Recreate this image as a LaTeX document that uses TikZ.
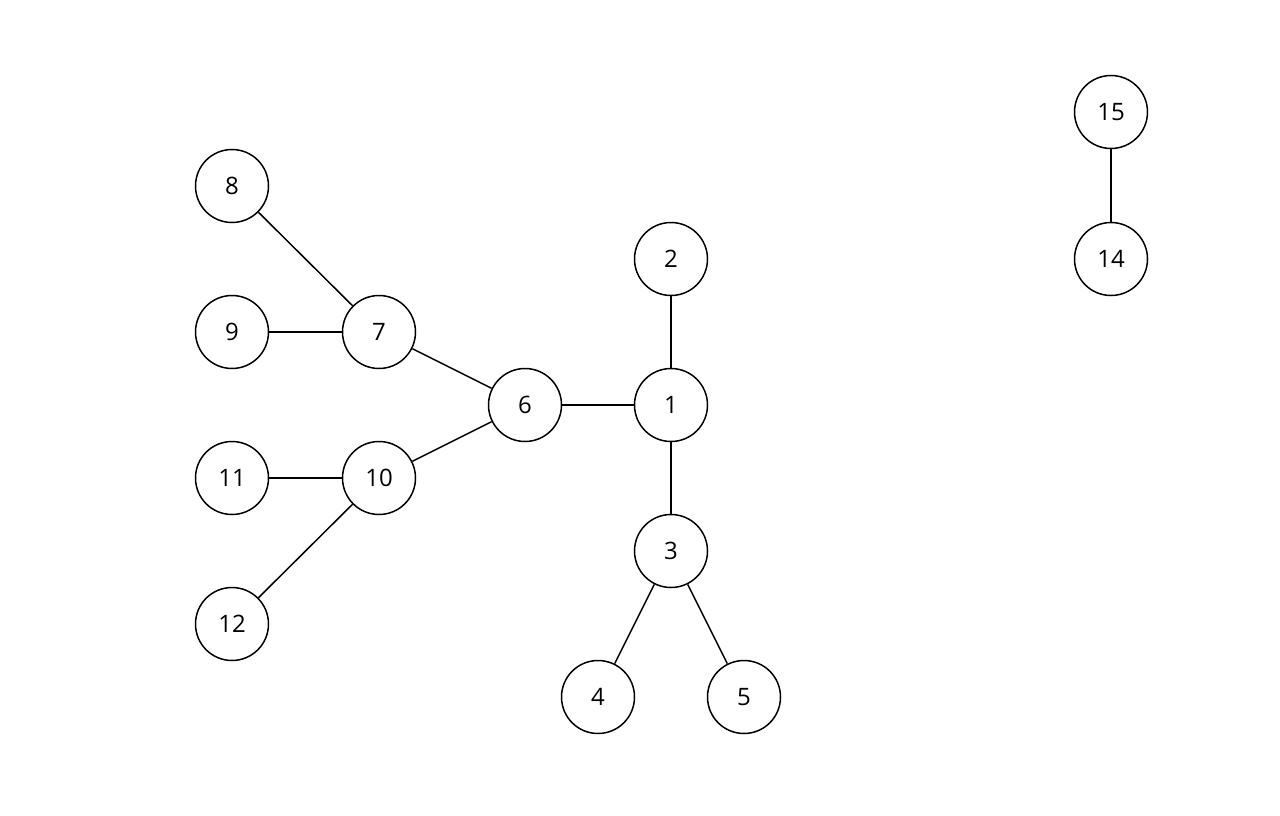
\documentclass[tikz,border=0pt]{standalone}
\usepackage{fontspec}
\setmainfont{Open Sans}
\begin{document}
\begin{tikzpicture}[x=1pt,y=-1pt,
  vert/.style={circle,draw,line width=1.5pt,minimum size=73pt,inner sep=0pt,font=\fontsize{24}{26}\selectfont},
  edge/.style={line width=1.5pt}]
\useasboundingbox (0,0) rectangle (1280,816);
\node[vert] (n15) at (1111,112) {15};
\node[vert] (n14) at (1111,259) {14};
\node[vert] (n8) at (232,186) {8};
\node[vert] (n2) at (671,259) {2};
\node[vert] (n9) at (232,332) {9};
\node[vert] (n7) at (379,332) {7};
\node[vert] (n6) at (525,405) {6};
\node[vert] (n1) at (671,405) {1};
\node[vert] (n11) at (232,478) {11};
\node[vert] (n10) at (379,478) {10};
\node[vert] (n3) at (671,551) {3};
\node[vert] (n12) at (232,624) {12};
\node[vert] (n4) at (598,697) {4};
\node[vert] (n5) at (744,697) {5};
\draw[edge] (n15) -- (n14);
\draw[edge] (n8) -- (n7);
\draw[edge] (n9) -- (n7);
\draw[edge] (n7) -- (n6);
\draw[edge] (n10) -- (n6);
\draw[edge] (n11) -- (n10);
\draw[edge] (n12) -- (n10);
\draw[edge] (n6) -- (n1);
\draw[edge] (n2) -- (n1);
\draw[edge] (n1) -- (n3);
\draw[edge] (n3) -- (n4);
\draw[edge] (n3) -- (n5);
\end{tikzpicture}
\end{document}
